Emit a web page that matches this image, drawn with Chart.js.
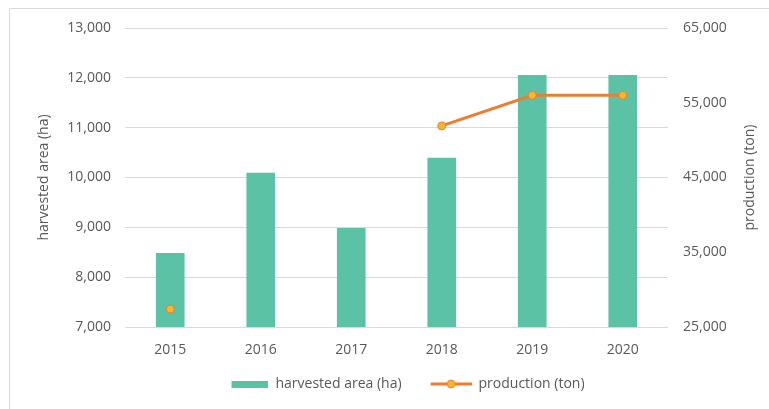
<!DOCTYPE html>
<html>
<head>
<meta charset="utf-8">
<script src="https://cdn.jsdelivr.net/npm/chart.js@4"></script>
<style>
  html, body { margin: 0; padding: 0; background: #fff; }
  #wrap { width: 769px; height: 409px; position: relative; }
</style>
</head>
<body>
<div id="wrap"><canvas id="c" width="769" height="409"></canvas></div>
<script>
const categories = ['2015', '2016', '2017', '2018', '2019', '2020'];
const harvestedArea = [8480, 10090, 8980, 10390, 12050, 12050];
const production = [27400, null, null, 51900, 56000, 56000];
const leftTicks = [7000, 8000, 9000, 10000, 11000, 12000, 13000];
const rightTicks = [25000, 35000, 45000, 55000, 65000];
const leftTitle = 'harvested area (ha)';
const rightTitle = 'production (ton)';

const FONT = "'Open Sans', sans-serif";
const GRAY = '#595959';
const BAR = '#5cc2a6';
const ORANGE = '#ed7d31';
const GOLD = '#f4b82c';
const SW = 60; // legend symbol slot width

function barSwatch() {
  const c = document.createElement('canvas');
  c.width = SW; c.height = 7;
  const g = c.getContext('2d');
  g.fillStyle = BAR; g.fillRect(SW - 37, 0, 37, 7);
  return c;
}
function lineSwatch() {
  const c = document.createElement('canvas');
  c.width = SW; c.height = 10;
  const g = c.getContext('2d');
  const x0 = SW - 41;
  g.strokeStyle = ORANGE; g.lineWidth = 3;
  g.beginPath(); g.moveTo(x0, 5); g.lineTo(SW, 5); g.stroke();
  g.fillStyle = GOLD; g.strokeStyle = ORANGE; g.lineWidth = 1;
  g.beginPath(); g.arc(x0 + 20.5, 5, 4, 0, Math.PI * 2); g.fill(); g.stroke();
  return c;
}

const frame = {
  id: 'frame',
  beforeDraw(chart) {
    const ctx = chart.ctx;
    ctx.save();
    ctx.strokeStyle = '#d9d9d9';
    ctx.lineWidth = 1;
    ctx.beginPath();
    ctx.moveTo(9.5, 420); ctx.lineTo(9.5, 8.5); ctx.lineTo(780, 8.5);
    ctx.stroke();
    ctx.restore();
  },
  afterDraw(chart) {
    // right axis title reads bottom-to-top like the left one
    const s = chart.scales.y1;
    const ctx = chart.ctx;
    ctx.save();
    ctx.translate(750, (s.top + s.bottom) / 2);
    ctx.rotate(-Math.PI / 2);
    ctx.font = "14px 'Open Sans', sans-serif";
    ctx.fillStyle = GRAY;
    ctx.textAlign = 'center';
    ctx.textBaseline = 'middle';
    ctx.fillText(rightTitle, 0, 0);
    ctx.restore();
  }
};

new Chart(document.getElementById('c'), {
  data: {
    labels: categories,
    datasets: [
      {
        type: 'line',
        label: rightTitle,
        data: production,
        yAxisID: 'y1',
        borderColor: ORANGE,
        borderWidth: 3,
        pointRadius: 4,
        pointBackgroundColor: GOLD,
        pointBorderColor: ORANGE,
        pointBorderWidth: 1,
        spanGaps: false,
        order: 0,
        pointStyle: 'circle'
      },
      {
        type: 'bar',
        label: leftTitle,
        data: harvestedArea,
        yAxisID: 'y',
        backgroundColor: BAR,
        barThickness: 28,
        order: 1
      }
    ]
  },
  options: {
    responsive: false,
    animation: false,
    layout: { padding: { left: 0, right: 0, top: 28, bottom: 8 } },
    plugins: {
      tooltip: { enabled: false },
      legend: {
        position: 'bottom',
        fullSize: false,
        labels: {
          font: { family: FONT, size: 14 },
          color: GRAY,
          usePointStyle: true,
          pointStyleWidth: SW,
          boxHeight: 12,
          padding: 10,
          generateLabels(chart) {
            return [
              { text: leftTitle, pointStyle: barSwatch(), fillStyle: BAR, strokeStyle: BAR, lineWidth: 0, datasetIndex: 1, fontColor: GRAY },
              { text: rightTitle, pointStyle: lineSwatch(), fillStyle: GOLD, strokeStyle: ORANGE, lineWidth: 0, datasetIndex: 0, fontColor: GRAY }
            ];
          }
        }
      }
    },
    scales: {
      x: {
        grid: { display: false, drawTicks: false },
        border: { display: false },
        ticks: { font: { family: FONT, size: 14 }, color: GRAY, padding: 15 },
        afterFit(s) { s.height = 40; }
      },
      y: {
        position: 'left',
        min: 7000, max: 13000,
        afterBuildTicks(s) { s.ticks = leftTicks.map(v => ({ value: v })); },
        grid: { color: '#d9d9d9', drawTicks: false },
        border: { display: false },
        ticks: {
          font: { family: FONT, size: 14 }, color: GRAY, padding: 14,
          callback: v => v.toLocaleString('en-US')
        },
        title: {
          display: true, text: leftTitle,
          font: { family: FONT, size: 14 }, color: GRAY,
          padding: { top: 36, bottom: 0 }
        },
        afterFit(s) { s.width = 125; }
      },
      y1: {
        position: 'right',
        min: 25000, max: 65000,
        afterBuildTicks(s) { s.ticks = rightTicks.map(v => ({ value: v })); },
        grid: { display: false, drawTicks: false },
        border: { display: false },
        ticks: {
          font: { family: FONT, size: 14 }, color: GRAY, padding: 15,
          callback: v => v.toLocaleString('en-US')
        },
        title: { display: false },
        afterFit(s) { s.width = 101; }
      }
    }
  },
  plugins: [frame]
});
</script>
</body>
</html>
